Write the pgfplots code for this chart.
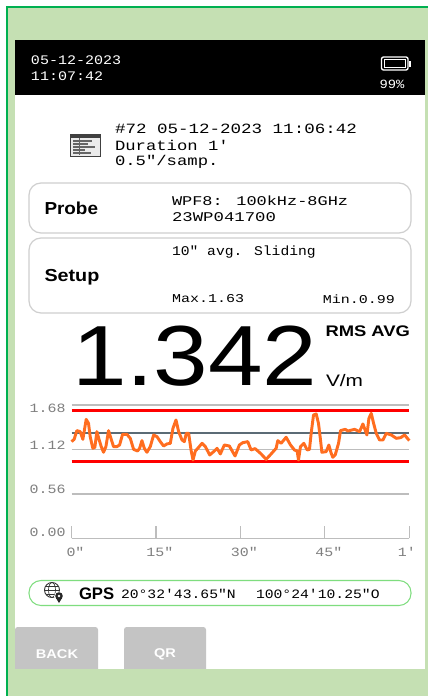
\documentclass[border=0pt]{standalone}
\usepackage{pgfplots}
\pgfplotsset{compat=1.18}
\usepackage{fontspec}
\setmainfont{Liberation Sans}
\newfontfamily\lcdf{Liberation Mono}
% size in pt, horizontal stretch, text
\newcommand{\lcd}[3]{\scalebox{#2}[1]{\fontsize{#1}{#1}\selectfont\lcdf #3}}
\newcommand{\sns}[3]{\scalebox{#2}[1]{\fontsize{#1}{#1}\selectfont #3}}
% y tick label, raised by #1, with no height of its own
\newcommand{\ylab}[2]{\raisebox{#1}[0pt][0pt]{\lcd{9.5}{1.18}{#2}}}
\definecolor{bgg}{HTML}{C5E0B3}
\definecolor{edge}{HTML}{00B050}
\definecolor{boxg}{HTML}{CFCFCF}
\definecolor{btn}{HTML}{C4C4C4}
\definecolor{gridc}{HTML}{BDBDBD}
\definecolor{labc}{HTML}{7F7F7F}
\definecolor{avgline}{HTML}{5B6B75}
\definecolor{trace}{HTML}{FF6D1F}
\definecolor{gpsg}{HTML}{7FDD7F}
\pgfplotstableread{
t v
0 1.218
0.47 1.247
0.95 1.357
1.54 1.344
2.02 1.247
2.61 1.499
3.02 1.449
3.32 1.281
3.79 1.134
4.15 1.147
4.51 1.344
4.92 1.239
5.28 1.155
5.69 1.084
6.11 1.155
6.58 1.357
7.00 1.260
7.47 1.155
8.06 1.155
8.54 1.176
9.07 1.310
9.84 1.310
10.44 1.260
11.03 1.121
11.74 1.100
12.10 1.134
12.51 1.231
12.93 1.134
13.40 1.084
13.99 1.155
14.59 1.302
15.18 1.281
15.77 1.218
16.36 1.163
16.96 1.189
17.55 1.197
18.02 1.386
18.56 1.491
19.03 1.344
19.63 1.239
20.04 1.218
20.40 1.323
20.81 1.323
21.23 1.113
21.58 0.987
22.00 1.100
22.59 1.147
23.18 1.197
23.78 1.155
24.55 1.050
25.38 1.100
25.85 1.134
26.44 1.063
27.15 1.176
28.04 1.163
29.05 1.037
29.82 1.176
30.42 1.205
31.31 1.218
31.90 1.113
32.62 1.130
33.68 1.063
34.57 0.995
35.46 1.063
36.35 1.134
36.64 1.231
37.23 1.197
38.12 1.273
38.90 1.176
39.60 1.113
40.08 1.100
40.32 0.987
40.67 1.155
41.27 1.197
41.86 1.113
42.27 1.121
42.57 1.323
42.99 1.554
43.46 1.567
43.87 1.449
44.23 1.239
44.47 1.084
45.24 1.092
45.71 1.176
46.13 1.071
46.42 1.021
46.84 1.050
47.43 1.197
47.79 1.357
48.62 1.373
49.09 1.352
50.28 1.373
51.17 1.344
51.76 1.441
52.47 1.302
52.83 1.512
53.24 1.575
53.66 1.449
54.13 1.323
54.72 1.239
55.32 1.239
55.91 1.323
56.80 1.302
57.69 1.260
58.46 1.268
59.17 1.302
60.00 1.231
}\tracedata
\begin{document}
\begin{tikzpicture}[x=0.75pt,y=-0.75pt,every node/.style={inner sep=0pt,outer sep=0pt}]
% page frame, coordinates are reference pixels
\path[use as bounding box] (0,0) rectangle (428,696);
\fill[white] (0,0) rectangle (428,696);
\fill[bgg] (8,8) rectangle (428,696);
\fill[edge] (6,6) rectangle (428,8);
\fill[edge] (6,6) rectangle (8,696);
\fill[white] (15,95) rectangle (425,669);
\fill[black] (15,40) rectangle (425,95);
% header
\node[anchor=west,white] at (31,60) {\lcd{9.8}{1.15}{05-12-2023}};
\node[anchor=west,white] at (31,76) {\lcd{9.8}{1.15}{11:07:42}};
\draw[white,line width=1pt,rounded corners=1.5pt] (381.5,57) rectangle (408,70);
\fill[white] (408.5,60.5) rectangle (411,66.5);
\fill[white] (383.5,59) rectangle (406,68);
\fill[black] (384.5,60) rectangle (405,67);
\node[white] at (392,84) {\lcd{9.4}{1.1}{99\%}};
% record info
\draw[black!75,fill=black!8,line width=0.6pt] (70,134) rectangle (100,156);
\fill[black!75] (70,134) rectangle (100,137.5);
\foreach \yy/\xe in {140/92,143/88,146/95,149/85,152/91}{
  \fill[black!60] (73,\yy) rectangle (\xe,\yy+1.6);
}
\draw[black!60,line width=0.5pt] (79,138) -- (79,155);
\node[anchor=west] at (115,129) {\lcd{10.6}{1.24}{\#72 05-12-2023 11:06:42}};
\node[anchor=west] at (115,145.5) {\lcd{10.6}{1.22}{Duration 1'}};
\node[anchor=west] at (115,162) {\lcd{10.6}{1.22}{0.5"/samp.}};
% probe and setup boxes
\draw[boxg,line width=0.9pt,rounded corners=9pt] (29,183) rectangle (411,233);
\draw[boxg,line width=0.9pt,rounded corners=9pt] (29,238) rectangle (411,313);
\node[anchor=west] at (44.5,208.5) {\sns{13}{1.09}{\bfseries Probe}};
\node[anchor=west] at (44.5,277) {\sns{13}{1.14}{\bfseries Setup}};
\node[anchor=west] at (172,200.5) {\lcd{10}{1.27}{WPF8: 100kHz-8GHz}};
\node[anchor=west] at (172,217.5) {\lcd{10}{1.3}{23WP041700}};
\node[anchor=west] at (172,252.5) {\lcd{10}{1.1}{10" avg. Sliding}};
\node[anchor=west] at (172,299) {\lcd{9}{1.25}{Max.1.63}};
\node[anchor=east] at (395,299) {\lcd{9}{1.25}{Min.0.99}};
% big reading
\node[anchor=base west] at (72,385) {\sns{64}{1.15}{1.342}};
\node[anchor=west] at (325.5,331) {\sns{11.5}{1.2}{\bfseries RMS AVG}};
\node[anchor=west] at (326,381) {\sns{12.5}{1.25}{V/m}};
% trace chart
\begin{axis}[
  at={(53.625pt,-403.725pt)},anchor=south west,
  scale only axis,width=253.35pt,height=100pt,
  xmin=0,xmax=60,ymin=0,ymax=1.68,clip=false,
  axis line style={draw=none},
  xtick pos=bottom,ytick pos=left,
  xtick={0,15,30,45,60},
  ytick={0,0.56,1.12,1.68},
  tick align=inside,
  major tick length=9.5pt,
  tick style={draw=gridc,line width=0.9pt},
  ytick style={draw=none},
  xticklabels={\lcd{9.5}{1.18}{0"},\lcd{9.5}{1.18}{15"},\lcd{9.5}{1.18}{30"},\lcd{9.5}{1.18}{45"},\hspace*{-9.8pt}\lcd{9.5}{1.18}{1'}},
  yticklabels={\ylab{1.5pt}{0.00},\ylab{0pt}{0.56},\ylab{-0.4pt}{1.12},\ylab{-6pt}{1.68}},
  xticklabel style={text=labc,xshift=3pt,yshift=-6.5pt},
  yticklabel style={text=labc,xshift=-4.5pt},
  ymajorgrids=true,
  grid style={draw=gridc,line width=1pt},
]
\addplot[gridc,line width=1pt,forget plot] coordinates {(0,0) (60,0)};
\addplot[red,line width=2.2pt,forget plot] coordinates {(0,1.608) (60,1.608)};
\addplot[red,line width=2.2pt,forget plot] coordinates {(0,0.965) (60,0.965)};
\addplot[avgline,line width=2.2pt,forget plot] coordinates {(0,1.327) (60,1.327)};
\addplot[trace,line width=2.2pt,line join=round] table[x=t,y=v] {\tracedata};
\end{axis}
% gps
\draw[gpsg,line width=0.8pt,rounded corners=9pt,fill=white] (29,580.5) rectangle (411,605.5);
\draw[black!80,line width=0.7pt] (52,590) circle (7.5);
\draw[black!80,line width=0.5pt] (52,590) ellipse (3.5 and 7.5);
\draw[black!80,line width=0.5pt] (44.5,590) -- (59.5,590) (45.5,586) -- (58.5,586) (45.5,594) -- (58.5,594);
\fill[white] (59,596.5) circle (5);
\fill[black!85] (59,596) circle (3.8);
\fill[black!85] (56,598) -- (62,598) -- (59,603) -- cycle;
\fill[white] (59,596) circle (1.3);
\node[anchor=west] at (79,594) {\sns{12.5}{1.0}{\bfseries GPS}};
\node[anchor=west] at (121,594) {\lcd{9.6}{1.15}{20°32'43.65"N}};
\node[anchor=west] at (256,594) {\lcd{9.6}{1.15}{100°24'10.25"O}};
% buttons
\fill[btn,rounded corners=2pt] (15,627) rectangle (98,675);
\fill[btn,rounded corners=2pt] (124,627) rectangle (206,675);
\fill[bgg] (15,669) rectangle (210,678);
\node[white] at (57,654) {\sns{9.5}{1.15}{\bfseries BACK}};
\node[white] at (165,654) {\sns{9.5}{1.15}{\bfseries QR}};
\end{tikzpicture}
\end{document}
